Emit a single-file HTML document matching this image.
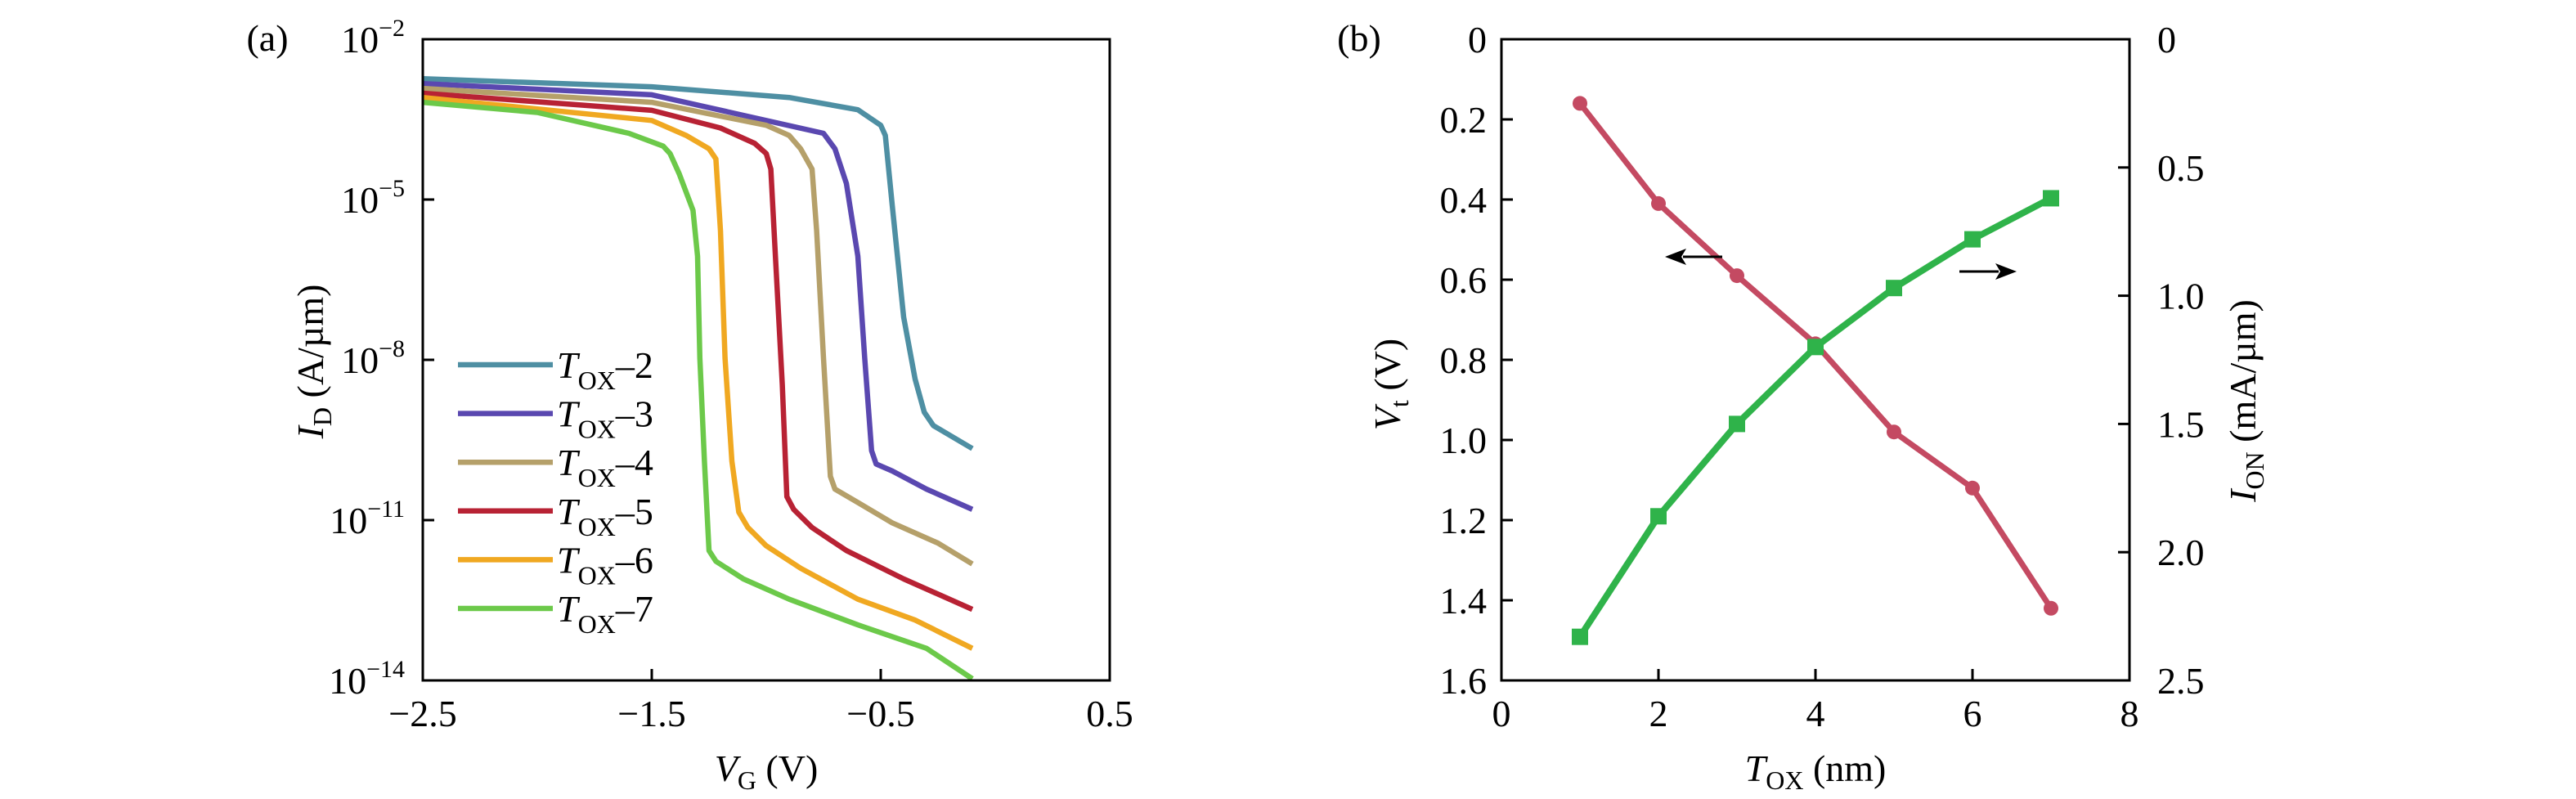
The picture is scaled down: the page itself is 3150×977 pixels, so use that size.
<!DOCTYPE html>
<html><head><meta charset="utf-8"><style>
html,body{margin:0;padding:0;background:#fff;}
svg{display:block;font-family:"Liberation Serif",serif;}
</style></head><body>
<svg id="fig" width="3150" height="977" viewBox="0 0 3150 977" xmlns="http://www.w3.org/2000/svg">
<g id="pa"></g>
<g id="pb"></g>
</svg>
<script>
// Panel (a) data: V_G values and log10(I_D) values
const seriesNames = ["2","3","4","5","6","7"];
const seriesColors = ["#4e8fa3","#5a48b0","#b5a06a","#b82234","#f0a821","#6cc94a"];
const vg2 = [-2.5,-1.5,-0.9,-0.6,-0.5,-0.48,-0.45,-0.4,-0.35,-0.31,-0.27,-0.1];
const logI2 = [-2.74,-2.89,-3.09,-3.32,-3.61,-3.8,-5.1,-7.2,-8.36,-8.98,-9.23,-9.66];
const vg3 = [-2.5,-1.5,-0.75,-0.7,-0.65,-0.6,-0.57,-0.54,-0.52,-0.45,-0.3,-0.1];
const logI3 = [-2.83,-3.04,-3.76,-4.05,-4.7,-6.06,-7.97,-9.7,-9.95,-10.08,-10.42,-10.8];
const vg4 = [-2.5,-1.5,-1.0,-0.9,-0.85,-0.8,-0.78,-0.75,-0.72,-0.7,-0.6,-0.45,-0.25,-0.1];
const logI4 = [-2.92,-3.18,-3.61,-3.8,-4.05,-4.43,-5.58,-7.97,-10.18,-10.42,-10.67,-11.05,-11.43,-11.82];
const vg5 = [-2.5,-1.5,-1.2,-1.05,-1.0,-0.98,-0.96,-0.93,-0.91,-0.88,-0.8,-0.65,-0.4,-0.1];
const logI5 = [-3.01,-3.33,-3.66,-3.95,-4.14,-4.43,-6.06,-8.46,-10.56,-10.8,-11.14,-11.57,-12.1,-12.67];
const vg6 = [-2.5,-1.5,-1.35,-1.25,-1.22,-1.2,-1.18,-1.15,-1.12,-1.08,-1.0,-0.85,-0.6,-0.35,-0.1];
const logI6 = [-3.09,-3.52,-3.8,-4.05,-4.24,-5.58,-7.97,-9.9,-10.85,-11.14,-11.48,-11.9,-12.48,-12.87,-13.4];
const vg7 = [-2.5,-2.0,-1.6,-1.45,-1.42,-1.38,-1.32,-1.3,-1.29,-1.27,-1.25,-1.22,-1.1,-0.9,-0.6,-0.3,-0.1];
const logI7 = [-3.18,-3.37,-3.76,-4.0,-4.14,-4.52,-5.2,-6.06,-7.97,-9.9,-11.57,-11.77,-12.1,-12.48,-12.96,-13.4,-13.97];
const xTicksA = [-2.5,-1.5,-0.5,0.5];
const xTickLabelsA = ["\u22122.5","\u22121.5","\u22120.5","0.5"];
const yTicksA = [-2,-5,-8,-11,-14];
const yTickLabelsA = ["\u22122","\u22125","\u22128","\u221211","\u221214"];

// Panel (b) data
const tox = [1,2,3,4,5,6,7];
const vt = [0.16,0.41,0.59,0.76,0.98,1.12,1.42];
const ion = [2.33,1.86,1.50,1.20,0.97,0.78,0.62];
const xTicksB = [0,2,4,6,8];
const yTicksB = [0,0.2,0.4,0.6,0.8,1.0,1.2,1.4,1.6];
const yTickLabelsB = ["0","0.2","0.4","0.6","0.8","1.0","1.2","1.4","1.6"];
const yTicksB2 = [0,0.5,1.0,1.5,2.0,2.5];
const yTickLabelsB2 = ["0","0.5","1.0","1.5","2.0","2.5"];

const NS="http://www.w3.org/2000/svg";
function mk(parent,tag,attrs,text){const e=document.createElementNS(NS,tag);for(const k in attrs)e.setAttribute(k,attrs[k]);if(text!==undefined)e.textContent=text;parent.appendChild(e);return e;}
const FS=46;

// ---------- Panel A ----------
const pa=document.getElementById('pa');
const AL=517,AR=1357,AT=48,AB=832;
const ax=v=>AL+(v+2.5)/3*(AR-AL);
const ay=l=>AT+(-2-l)/12*(AB-AT);
let t=mk(pa,'text',{x:327,y:62,'font-size':FS,'text-anchor':'middle'},'(a)');


xTicksA.forEach((v,i)=>{
  if(i>0&&i<xTicksA.length-1){const l=mk(pa,'line',{x1:ax(v),x2:ax(v),y1:AB,y2:AB-14,stroke:'#000','stroke-width':3});
  
  }
  const tx=mk(pa,'text',{x:ax(v),y:AB+56,'font-size':FS,'text-anchor':'middle'},xTickLabelsA[i]);
  
  
});
yTicksA.forEach((v,i)=>{
  if(i>0&&i<yTicksA.length-1){const l=mk(pa,'line',{x1:AL,x2:AL+14,y1:ay(v),y2:ay(v),stroke:'#000','stroke-width':3});
  
  }
  const tx=mk(pa,'text',{x:AL-22,y:ay(v)+16,'font-size':FS,'text-anchor':'end'});
  
  
  mk(tx,'tspan',{},'10');
  mk(tx,'tspan',{'font-size':30,dy:-20},yTickLabelsA[i]);
});
const seriesV=[vg2,vg3,vg4,vg5,vg6,vg7], seriesL=[logI2,logI3,logI4,logI5,logI6,logI7];
seriesV.forEach((vs,s)=>{
  const d=vs.map((v,i)=>(i?'L':'M')+ax(v).toFixed(1)+','+ay(seriesL[s][i]).toFixed(1)).join(' ');
  const p=mk(pa,'path',{d:d,fill:'none',stroke:seriesColors[s],'stroke-width':6.5,'stroke-linejoin':'round'});
  
  
});
const box=mk(pa,'rect',{x:AL,y:AT,width:AR-AL,height:AB-AT,fill:'none',stroke:'#000','stroke-width':3});


seriesNames.forEach((n,i)=>{
  const y=446+i*59.6;
  const g=mk(pa,'g',{});
  
  
  mk(g,'line',{x1:560,x2:676,y1:y,y2:y,stroke:seriesColors[i],'stroke-width':6.5});
  const tx=mk(g,'text',{x:681,y:y+16,'font-size':FS});
  mk(tx,'tspan',{'font-style':'italic'},'T');
  mk(tx,'tspan',{'font-size':32,dy:14},'OX');
  mk(tx,'tspan',{dy:-14},'\u2013'+n);
});
t=mk(pa,'text',{x:0,y:0,'font-size':FS,'text-anchor':'middle',transform:'translate(395,442) rotate(-90)'});


mk(t,'tspan',{'font-style':'italic'},'I');
mk(t,'tspan',{'font-size':32,dy:10},'D');
mk(t,'tspan',{dy:-10},' (A/\u00b5m)');
t=mk(pa,'text',{x:AL+(AR-AL)/2,y:955,'font-size':FS,'text-anchor':'middle'});


mk(t,'tspan',{'font-style':'italic'},'V');
mk(t,'tspan',{'font-size':32,dy:10},'G');
mk(t,'tspan',{dy:-10},' (V)');

// ---------- Panel B ----------
const pb=document.getElementById('pb');
const BL=1836,BR=2604,BT=48,BB=832;
const bx=v=>BL+v/8*(BR-BL);
const by=v=>BT+v/1.6*(BB-BT);
const by2=v=>BT+v/2.5*(BB-BT);
t=mk(pb,'text',{x:1662,y:62,'font-size':FS,'text-anchor':'middle'},'(b)');


xTicksB.forEach((v,i)=>{
  if(i>0&&i<xTicksB.length-1){const l=mk(pb,'line',{x1:bx(v),x2:bx(v),y1:BB,y2:BB-14,stroke:'#000','stroke-width':3});
  
  }
  const tx=mk(pb,'text',{x:bx(v),y:BB+56,'font-size':FS,'text-anchor':'middle'},String(v));
  
  
});
yTicksB.forEach((v,i)=>{
  if(i>0&&i<yTicksB.length-1){const l=mk(pb,'line',{x1:BL,x2:BL+14,y1:by(v),y2:by(v),stroke:'#000','stroke-width':3});
  
  }
  const tx=mk(pb,'text',{x:BL-18,y:by(v)+16,'font-size':FS,'text-anchor':'end'},yTickLabelsB[i]);
  
  
});
yTicksB2.forEach((v,i)=>{
  if(i>0&&i<yTicksB2.length-1){const l=mk(pb,'line',{x1:BR,x2:BR-14,y1:by2(v),y2:by2(v),stroke:'#000','stroke-width':3});
  
  }
  const tx=mk(pb,'text',{x:BR+34,y:by2(v)+16,'font-size':FS,'text-anchor':'start'},yTickLabelsB2[i]);
  
  
});
let d=tox.map((v,i)=>(i?'L':'M')+bx(v)+','+by(vt[i])).join(' ');
let p=mk(pb,'path',{d:d,fill:'none',stroke:'#c44a62','stroke-width':7,'stroke-linejoin':'round'});


tox.forEach((v,i)=>{const c=mk(pb,'circle',{cx:bx(v),cy:by(vt[i]),r:9,fill:'#c44a62'});

});
d=tox.map((v,i)=>(i?'L':'M')+bx(v)+','+by2(ion[i])).join(' ');
p=mk(pb,'path',{d:d,fill:'none',stroke:'#2fb34a','stroke-width':8,'stroke-linejoin':'round'});


tox.forEach((v,i)=>{const r=mk(pb,'rect',{x:bx(v)-10,y:by2(ion[i])-10,width:20,height:20,fill:'#2fb34a'});

});
const box2=mk(pb,'rect',{x:BL,y:BT,width:BR-BL,height:BB-BT,fill:'none',stroke:'#000','stroke-width':3});


// arrows
let a=mk(pb,'g',{});


mk(a,'line',{x1:2106,x2:2058,y1:314,y2:314,stroke:'#000','stroke-width':3});
mk(a,'polygon',{points:'2036,314 2062,304 2056,314 2062,324',fill:'#000'});
a=mk(pb,'g',{});


mk(a,'line',{x1:2396,x2:2444,y1:332,y2:332,stroke:'#000','stroke-width':3});
mk(a,'polygon',{points:'2466,332 2440,322 2446,332 2440,342',fill:'#000'});
t=mk(pb,'text',{x:0,y:0,'font-size':FS,'text-anchor':'middle',transform:'translate(1712,470) rotate(-90)'});


mk(t,'tspan',{'font-style':'italic'},'V');
mk(t,'tspan',{'font-size':32,dy:10},'t');
mk(t,'tspan',{dy:-10},' (V)');
t=mk(pb,'text',{x:0,y:0,'font-size':FS,'text-anchor':'middle',transform:'translate(2758,490) rotate(-90)'});


mk(t,'tspan',{'font-style':'italic'},'I');
mk(t,'tspan',{'font-size':32,dy:10},'ON');
mk(t,'tspan',{dy:-10},' (mA/\u00b5m)');
t=mk(pb,'text',{x:BL+(BR-BL)/2,y:955,'font-size':FS,'text-anchor':'middle'});


mk(t,'tspan',{'font-style':'italic'},'T');
mk(t,'tspan',{'font-size':32,dy:10},'OX');
mk(t,'tspan',{dy:-10},' (nm)');
</script>
</body></html>
